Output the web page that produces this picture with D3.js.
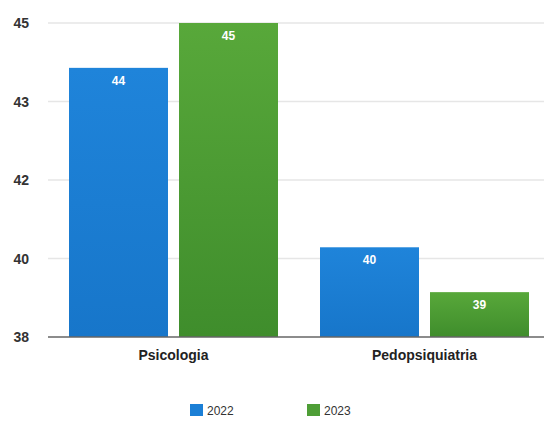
<!DOCTYPE html>
<html><head><meta charset="utf-8">
<script src="https://cdn.jsdelivr.net/npm/d3@7"></script>
<style>body{margin:0;background:#fff}svg{display:block}text{font-family:"Liberation Sans",Arial,sans-serif}</style>
</head><body><svg id="c" width="544" height="423"></svg>
<script>
const categories = ["Psicologia", "Pedopsiquiatria"];
const seriesNames = ["2022", "2023"];
const values2022 = [44, 40];
const values2023 = [45, 39];
const yTicks = [38, 39.75, 41.5, 43.25, 45];
const yTickLabels = ["38", "40", "42", "43", "45"];
const colors = ["#1b7fd6", "#4e9e36"];

const svg = d3.select("#c");
const W = 544, H = 423;
const m = {left: 48, right: -6, top: 23, bottom: 86};
const x0 = d3.scaleBand().domain(categories).range([m.left, W - m.right]).paddingInner(0).paddingOuter(0);
const x1 = d3.scaleBand().domain(seriesNames).range([21, x0.bandwidth() - 21]).paddingInner(0.1);
const y = d3.scaleLinear().domain([38, 45]).range([H - m.bottom, m.top]);

const defs = svg.append("defs");
const gB = defs.append("linearGradient").attr("id","gb").attr("x1",0).attr("x2",0).attr("y1",0).attr("y2",1);
gB.append("stop").attr("offset","0").attr("stop-color","#1f84da");
gB.append("stop").attr("offset","1").attr("stop-color","#1776ca");
const gG = defs.append("linearGradient").attr("id","gg").attr("x1",0).attr("x2",0).attr("y1",0).attr("y2",1);
gG.append("stop").attr("offset","0").attr("stop-color","#58a83a");
gG.append("stop").attr("offset","1").attr("stop-color","#3f8d2c");
const fills = ["url(#gb)", "url(#gg)"];

// gridlines
svg.append("g").selectAll("line").data(yTicks.slice(1)).join("line")
  .attr("x1", m.left).attr("x2", W).attr("y1", d => y(d)).attr("y2", d => y(d))
  .attr("stroke", "#e6e6e6").attr("stroke-width", 1.5);

// y labels
const yAxis = d3.axisLeft(y).tickValues(yTicks).tickSize(0).tickFormat((d,i) => yTickLabels[i]);
const ya = svg.append("g").attr("transform", `translate(${m.left - 16},0)`).call(yAxis);
ya.select(".domain").remove();
ya.selectAll("text").attr("font-size", 14).attr("font-weight", "bold").attr("fill", "#333").attr("dy", "0.35em");

const series = [values2022, values2023];
const groups = svg.append("g").selectAll("g").data(categories).join("g")
  .attr("transform", d => `translate(${x0(d)},0)`);
groups.each(function(cat, ci) {
  const g = d3.select(this);
  seriesNames.forEach((s, si) => {
    const v = series[si][ci];
    g.append("rect").attr("x", x1(s)).attr("width", x1.bandwidth())
      .attr("y", y(v)).attr("height", y(38) - y(v)).attr("fill", fills[si]);
    g.append("text").attr("x", x1(s) + x1.bandwidth()/2).attr("y", y(v) + 17)
      .attr("text-anchor", "middle").attr("fill", "#fff").attr("font-size", 12).attr("font-weight", "bold")
      .text(v);
  });
});

// x axis
const xa = svg.append("g").attr("transform", `translate(0,${y(38)})`).call(d3.axisBottom(x0).tickSize(0).tickPadding(13));
xa.select(".domain").attr("stroke", "#666").attr("stroke-width", 1.5).attr("d", `M${m.left},0H${W}`);
xa.selectAll("text").attr("font-size", 14).attr("font-weight", "bold").attr("fill", "#222");

// legend
const legX = [190, 307];
const leg = svg.append("g").selectAll("g").data(seriesNames).join("g")
  .attr("transform", (d,i) => `translate(${legX[i]},404)`);
leg.append("rect").attr("width", 13).attr("height", 12).attr("fill", (d,i) => colors[i]);
leg.append("text").attr("x", 17).attr("y", 11).attr("font-size", 12).attr("fill", "#333").text(d => d);
</script></body></html>
